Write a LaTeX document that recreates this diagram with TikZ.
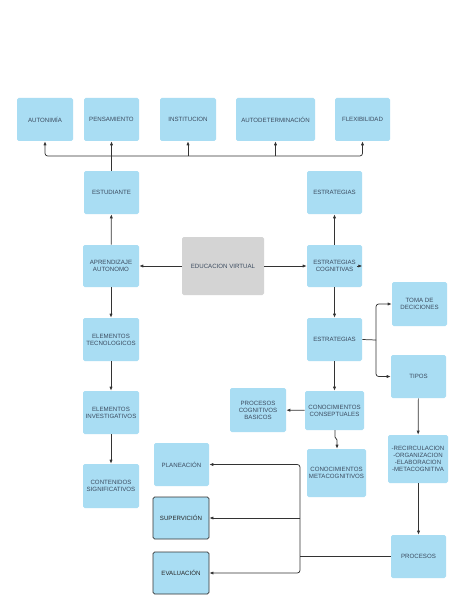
\documentclass[tikz,border=0pt]{standalone}
\usepackage{fontspec}
\setmainfont{Liberation Sans}
\usetikzlibrary{arrows.meta}
\definecolor{boxblue}{HTML}{A9DDF3}
\definecolor{boxgray}{HTML}{D4D4D4}
\definecolor{txt}{HTML}{3B4B5F}
\definecolor{ln}{HTML}{333333}
\newcommand{\bx}[7][]{%
  \node[bluebox,#1,minimum width={(#4-#2)*0.75pt},minimum height={(#5-#3)*0.75pt}]
    (#6) at ({(#2+#4)/2},{(#3+#5)/2}) {#7};}
\begin{document}
\begin{tikzpicture}[x=0.75pt,y=-0.75pt,
  bluebox/.style={fill=boxblue,draw=none,rounded corners=1.2pt,inner sep=0.5pt,align=center,
    text=txt,font=\fontsize{4.6}{5.3}\selectfont},
  graybox/.style={fill=boxgray},
  darkbox/.style={draw=ln,line width=0.6pt,text=black!85},
  conn/.style={draw=ln,line width=0.55pt},
  arr/.style={conn,-{Latex[length=3pt,width=2.4pt]}}]
\useasboundingbox[fill=white] (0,0) rectangle (474,613);
% top row
\bx{17}{98}{73}{141}{aut}{AUTONIMÍA}
\bx{84}{98}{139}{141}{pen}{PENSAMIENTO}
\bx{160}{98}{216}{141}{ins}{INSTITUCION}
\bx{236}{98}{315}{141}{adt}{AUTODETERMINACIÓN}
\bx{335}{98}{390}{141}{flx}{FLEXIBILIDAD}
% second row
\bx{84}{171}{139}{214}{est}{ESTUDIANTE}
\bx{307}{171}{362}{214}{estr}{ESTRATEGIAS}
% middle row
\bx{83}{245}{139}{287}{apr}{APRENDIZAJE\\AUTONOMO}
\bx[graybox]{182}{237}{264}{295}{ev}{EDUCACION VIRTUAL}
\bx{307}{245}{362}{287}{ec}{ESTRATEGIAS\\COGNITIVAS}
% left column
\bx{83}{318}{139}{361}{et}{ELEMENTOS\\TECNOLOGICOS}
\bx{83}{391}{139}{434}{ei}{ELEMENTOS\\INVESTIGATIVOS}
\bx{83}{464}{139}{508}{cs}{CONTENIDOS\\SIGNIFICATIVOS}
% right part
\bx{307}{318}{362}{361}{estm}{ESTRATEGIAS}
\bx{392}{282}{447}{326}{toma}{TOMA DE\\DECICIONES}
\bx{391}{355}{446}{398}{tip}{TIPOS}
\bx{305}{391}{364}{430}{cc}{CONOCIMIENTOS\\CONSEPTUALES}
\bx{230}{388}{286}{432}{pcb}{PROCESOS\\COGNITIVOS\\BASICOS}
\bx{307}{449}{366}{497}{cm}{CONOCIMIENTOS\\METACOGNITIVOS}
\bx{388}{435}{448}{483}{rec}{-RECIRCULACION\\-ORGANIZACION\\-ELABORACION\\-METACOGNITIVA}
\bx{391}{535}{446}{578}{proc}{PROCESOS}
% bottom left
\bx{154}{443}{209}{486}{plan}{PLANEACIÓN}
\bx[darkbox]{153}{497}{209}{539}{sup}{SUPERVICIÓN}
\bx[darkbox]{153}{552}{209}{594}{eva}{EVALUACIÓN}
% bus at top
\coordinate (bus) at (111.5,156);
\draw[conn] (est.north) -- (est.north |- bus);
\draw[arr,rounded corners=2pt] (est.north |- bus) -| (aut.south);
\draw[arr,rounded corners=2pt] (est.north |- bus) -| (flx.south);
\draw[arr] (pen.south |- bus) -- (pen.south);
\draw[arr] (ins.south |- bus) -- (ins.south);
\draw[arr] (adt.south |- bus) -- (adt.south);
% middle connectors
\draw[arr] (apr) -- (est);
\draw[arr] (ev) -- (apr);
\draw[arr] (ev) -- (ec);
\draw[arr] (ec) -- (estr);
\draw[arr] ([xshift=-4pt]ec.east) -- (ec.east);
\draw[arr] (apr) -- (et);
\draw[arr] (et) -- (ei);
\draw[arr] (ei) -- (cs);
\draw[arr] (ec) -- (estm);
% strategies branch
\coordinate (br) at (376,340);
\draw[conn] (estm.east) -- (br);
\draw[arr,rounded corners=2pt] (br) |- (toma.west);
\draw[arr,rounded corners=2pt] (br) |- (tip.west);
\draw[arr] (estm.south -| cc.north) -- (cc.north);
\draw[arr] (cc) -- (pcb);
\draw[arr] (335,430) -- (335,437) -- (337,440) -- (cm.north -| 337,0);
\draw[arr] (tip) -- (rec);
\draw[arr] (rec.south -| proc.north) -- (proc.north);
% processes bus
\coordinate (j) at (300,556.5);
\draw[conn] (proc.west) -- (j);
\draw[arr,rounded corners=2pt] (j) |- (plan.east);
\draw[arr,rounded corners=2pt] (j) |- (eva.east);
\draw[arr] (sup.east -| j) -- (sup.east);
\end{tikzpicture}
\end{document}
